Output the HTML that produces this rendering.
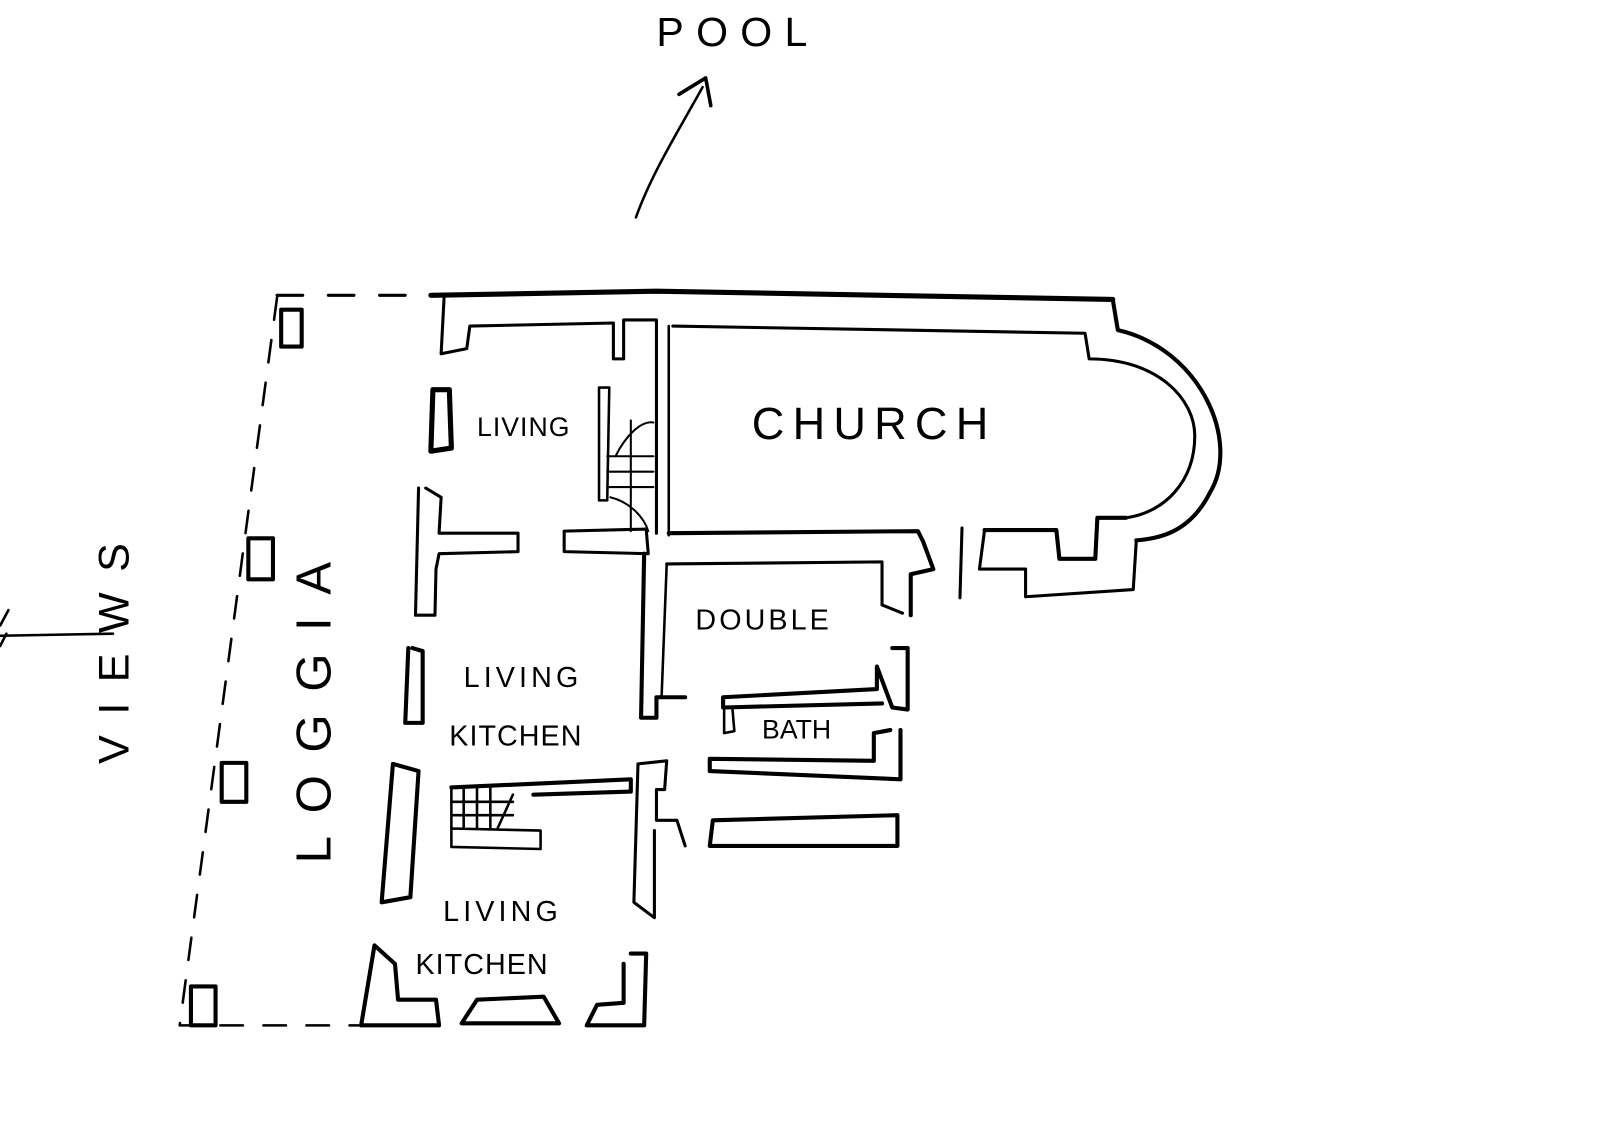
<!DOCTYPE html>
<html><head><meta charset="utf-8"><style>
html,body{margin:0;padding:0;background:#fff;width:1600px;height:1132px;overflow:hidden}
svg{display:block}
text{font-family:"Liberation Sans",sans-serif;fill:#000}
</style></head><body>
<svg width="1600" height="1132" viewBox="0 0 1560 1104" xmlns="http://www.w3.org/2000/svg" fill="none" stroke="#000" stroke-linecap="round" stroke-linejoin="round">
<!-- POOL arrow -->
<path d="M620 212 C635 170 660 130 685 85" stroke-width="2.5"/>
<path d="M662 92 L688 76 L693 103" stroke-width="3.5"/>
<text x="640" y="45" font-size="40" letter-spacing="12" stroke="none">POOL</text>
<!-- VIEWS arrow -->
<path d="M0 620 L110 618" stroke-width="2.5"/>
<path d="M8 595 L0 610 M0 630 L6 618" stroke-width="2.5"/>
<text x="0" y="0" font-size="42" letter-spacing="20" stroke="none" transform="translate(125,745) rotate(-90)">VIEWS</text>
<!-- dashed loggia outline -->
<path d="M270 290 L175 1000 L350 1000" stroke-width="2.5" stroke-dasharray="22 20"/>
<path d="M270 288 L420 288" stroke-width="3" stroke-dasharray="25 25"/>
<text x="0" y="0" font-size="48" letter-spacing="22" stroke="none" transform="translate(322,842) rotate(-90)">LOGGIA</text>
<!-- columns -->
<rect x="274" y="302" width="20" height="36" stroke-width="4"/>
<rect x="242" y="525" width="24" height="40" stroke-width="4"/>
<rect x="216" y="744" width="24" height="38" stroke-width="4"/>
<rect x="186" y="962" width="24" height="38" stroke-width="4"/>
<!-- top outer wall -->
<path d="M420 288 L640 284 L1085 292" stroke-width="5"/>
<path d="M433 288 L430 345 L455 340 L458 318 L598 315 L598 350 L608 350 L608 312 L640 312 L640 520" stroke-width="3"/>
<path d="M1085 292 L1090 322 C1170 340 1210 430 1180 480 C1160 520 1130 525 1108 527" stroke-width="4"/>
<path d="M656 318 L1058 325 L1062 350 C1130 350 1165 390 1165 425 C1165 470 1135 500 1098 505" stroke-width="3"/>
<path d="M652 318 L652 522" stroke-width="2.5"/>
<!-- church bottom wall -->
<path d="M652 520 L895 518 L900 528 L910 555 L888 560 L888 600" stroke-width="4"/>
<path d="M650 550 L860 548 L860 590 L880 598" stroke-width="3"/>
<path d="M938 515 L936 583" stroke-width="3"/>
<path d="M960 517 L1030 517 L1033 545 L1068 545 L1070 505 L1098 505" stroke-width="4"/>
<path d="M960 517 L955 555 L1000 555 L1000 582 L1105 575 L1108 527" stroke-width="3"/>
<!-- living top -->
<path d="M422 380 L438 380 L440 437 L420 440 Z" stroke-width="5"/>
<text x="465" y="425" font-size="26" letter-spacing="1" stroke="none">LIVING</text>
<path d="M584 378 L594 378 L592 488 L584 488 Z" stroke-width="2.5"/>
<!-- stair -->
<path d="M592 445 L637 445 M592 460 L637 460 M592 475 L637 475 M615 410 L615 518 M600 445 C610 425 625 410 637 412 M595 485 C615 490 628 505 632 518" stroke-width="2"/>
<!-- walls left column -->
<path d="M415 476 L430 485 L428 520 L505 520 L505 538 L428 540 L425 555 L424 600 L405 600 L408 476" stroke-width="3"/>
<path d="M550 518 L630 516 L632 540 L550 538 Z" stroke-width="3"/>
<path d="M628 540 L625 700 L640 700 L640 680 L668 680" stroke-width="4"/>
<path d="M650 550 L645 680" stroke-width="2.5"/>
<text x="678" y="614" font-size="28" letter-spacing="3" stroke="none">DOUBLE</text>
<!-- bath block -->
<path d="M870 632 L885 632 L885 692 L870 690 L855 650 L855 672 L705 680 L705 690 L860 686" stroke-width="4"/>
<path d="M706 692 L706 715 L716 713 L714 690" stroke-width="2.5"/>
<text x="743" y="720" font-size="26" stroke="none">BATH</text>
<path d="M868 712 L852 715 L852 742 L692 740 L692 752 L878 760 L878 712" stroke-width="4"/>
<path d="M695 800 L875 795 L875 825 L692 825 Z" stroke-width="4"/>
<!-- living kitchen 1 -->
<path d="M402 632 L412 635 L412 705 L395 705 L398 632" stroke-width="4"/>
<text x="452" y="670" font-size="28" letter-spacing="4" stroke="none">LIVING</text>
<text x="438" y="727" font-size="28" letter-spacing="1" stroke="none">KITCHEN</text>
<path d="M383 745 L408 752 L400 875 L372 880 Z" stroke-width="4"/>
<!-- kitchen2 stair and wall -->
<path d="M440 768 L615 760 L615 772 L520 775" stroke-width="4"/>
<path d="M440 768 L440 826 L527 828 L527 810 L440 808 M452 768 L452 808 M465 768 L465 808 M478 768 L478 808 M440 782 L500 782 M440 795 L500 795 M500 775 L485 808" stroke-width="2.5"/>
<path d="M622 745 L650 742 L648 770 L640 770 L640 800 L660 800 L668 825 M622 745 L618 880 L638 895 L638 810" stroke-width="3"/>
<text x="432" y="898" font-size="28" letter-spacing="4" stroke="none">LIVING</text>
<text x="405" y="950" font-size="28" letter-spacing="1" stroke="none">KITCHEN</text>
<!-- bottom walls -->
<path d="M365 922 L352 1000 L428 1000 L425 975 L388 975 L385 940 Z" stroke-width="4"/>
<path d="M450 998 L465 975 L530 972 L545 998 Z" stroke-width="4"/>
<path d="M615 930 L630 930 L628 1000 L572 1000 L582 980 L608 978 L608 940" stroke-width="4"/>
<text x="733" y="428" font-size="44" letter-spacing="8" stroke="none">CHURCH</text>
</svg>
</body></html>
